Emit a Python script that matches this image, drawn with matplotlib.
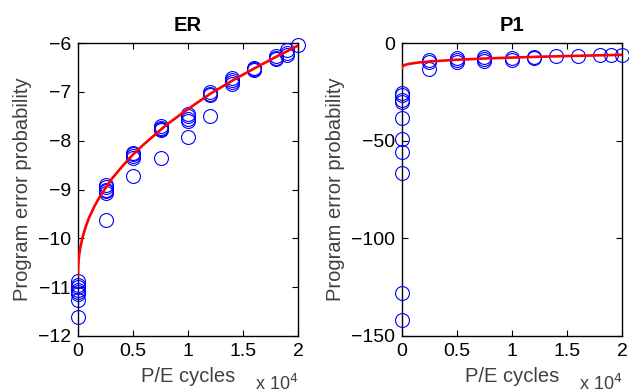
import matplotlib
matplotlib.use('Agg')
import matplotlib.pyplot as plt
from matplotlib.ticker import FuncFormatter

plt.rcParams['font.family'] = ['Liberation Sans', 'DejaVu Sans']

# ---- data ----
# ER panel: measured points (P/E cycles, value)
er_x = [0, 0, 0, 0, 0, 0, 0, 0,
        2500, 2500, 2500, 2500, 2500, 2500,
        5000, 5000, 5000, 5000, 5000,
        7500, 7500, 7500, 7500, 7500,
        10000, 10000, 10000, 10000, 10000,
        12000, 12000, 12000, 12000,
        14000, 14000, 14000, 14000,
        16000, 16000, 16000,
        18000, 18000, 18000,
        19000, 19000, 19000,
        20000]
er_y = [-10.88, -10.95, -11.0, -11.05, -11.1, -11.15, -11.27, -11.62,
        -8.9, -8.95, -9.0, -9.03, -9.08, -9.62,
        -8.25, -8.28, -8.32, -8.36, -8.73,
        -7.7, -7.73, -7.76, -7.78, -8.36,
        -7.45, -7.5, -7.55, -7.6, -7.92,
        -7.01, -7.04, -7.06, -7.5,
        -6.72, -6.76, -6.8, -6.84,
        -6.5, -6.53, -6.56,
        -6.27, -6.3, -6.32,
        -6.15, -6.2, -6.24,
        -6.03]
# ER fitted curve
er_fit_x = [0, 20, 50, 100, 200, 400, 700, 1000, 1500, 2000, 3000, 4000,
            5000, 6000, 8000, 10000, 12000, 14000, 16000, 18000, 20000]
er_fit_y = [-10.75, -10.56, -10.46, -10.35, -10.20, -9.99, -9.76, -9.58,
            -9.34, -9.14, -8.80, -8.53, -8.28, -8.07, -7.68, -7.35, -7.04,
            -6.77, -6.52, -6.28, -6.05]

# P1 panel
p1_x = [0, 0, 0, 0, 0, 0, 0, 0, 0, 0,
        2500, 2500, 2500,
        5000, 5000, 5000,
        7500, 7500, 7500,
        10000, 10000,
        12000, 12000,
        14000, 16000, 18000, 19000, 20000]
p1_y = [-25.3, -26.5, -29.0, -30.0, -38.5, -49.0, -56.0, -66.3, -127.8, -141.8,
        -8.9, -9.7, -13.3,
        -7.7, -8.6, -9.5,
        -7.2, -8.3, -9.3,
        -7.6, -8.5,
        -7.0, -7.8,
        -6.6, -6.5, -6.1, -6.2, -6.0]
p1_fit_x = [0, 20, 100, 300, 700, 1500, 2500, 5000, 7500, 10000,
            12500, 15000, 17500, 20000]
p1_fit_y = [-12.8, -12.12, -11.64, -11.12, -10.58, -9.93, -9.4, -8.52,
            -7.89, -7.40, -6.98, -6.62, -6.30, -6.0]

x_ticks = [0, 5000, 10000, 15000, 20000]
er_yticks = [-12, -11, -10, -9, -8, -7, -6]
p1_yticks = [-150, -100, -50, 0]

label_col = '#404040'


def fmt_x(v, pos):
    s = '%g' % (v / 1e4)
    return s


def style_axes(ax, title, yticks, ylim):
    ax.set_xlim(0, 20000)
    ax.set_ylim(*ylim)
    ax.set_xticks(x_ticks)
    ax.set_yticks(yticks)
    ax.xaxis.set_major_formatter(FuncFormatter(fmt_x))
    ax.tick_params(direction='in', top=True, right=True, length=4,
                   width=0.8, labelsize=14, pad=5)
    for sp in ax.spines.values():
        sp.set_linewidth(1.0)
    ax.set_title(title, fontsize=14.5, fontweight='bold', pad=9)
    ax.set_xlabel('P/E cycles', fontsize=14.5, color=label_col, labelpad=5)
    ax.set_ylabel('Program error probability', fontsize=14.5,
                  color=label_col, labelpad=4)
    ax.text(1.0, -0.183, r'x 10$^4$', transform=ax.transAxes, ha='right',
            va='baseline', fontsize=13, color=label_col)


fig = plt.figure(figsize=(6.29, 3.92), dpi=100)
ax1 = fig.add_axes([0.124, 0.143, 0.350, 0.747])
ax2 = fig.add_axes([0.639, 0.143, 0.350, 0.747])

ax1.plot(er_x, er_y, 'o', mfc='none', mec='#0000ff', ms=10, mew=0.8,
         clip_on=False, zorder=3)
ax1.plot(er_fit_x, er_fit_y, '-', color='#ff0000', lw=1.9, zorder=4)
style_axes(ax1, 'ER', er_yticks, (-12, -6))

ax2.plot(p1_x, p1_y, 'o', mfc='none', mec='#0000ff', ms=10, mew=0.8,
         clip_on=False, zorder=3)
ax2.plot(p1_fit_x, p1_fit_y, '-', color='#ff0000', lw=1.9, zorder=4)
style_axes(ax2, 'P1', p1_yticks, (-150, 0))

fig.savefig('out.png', dpi=100)
